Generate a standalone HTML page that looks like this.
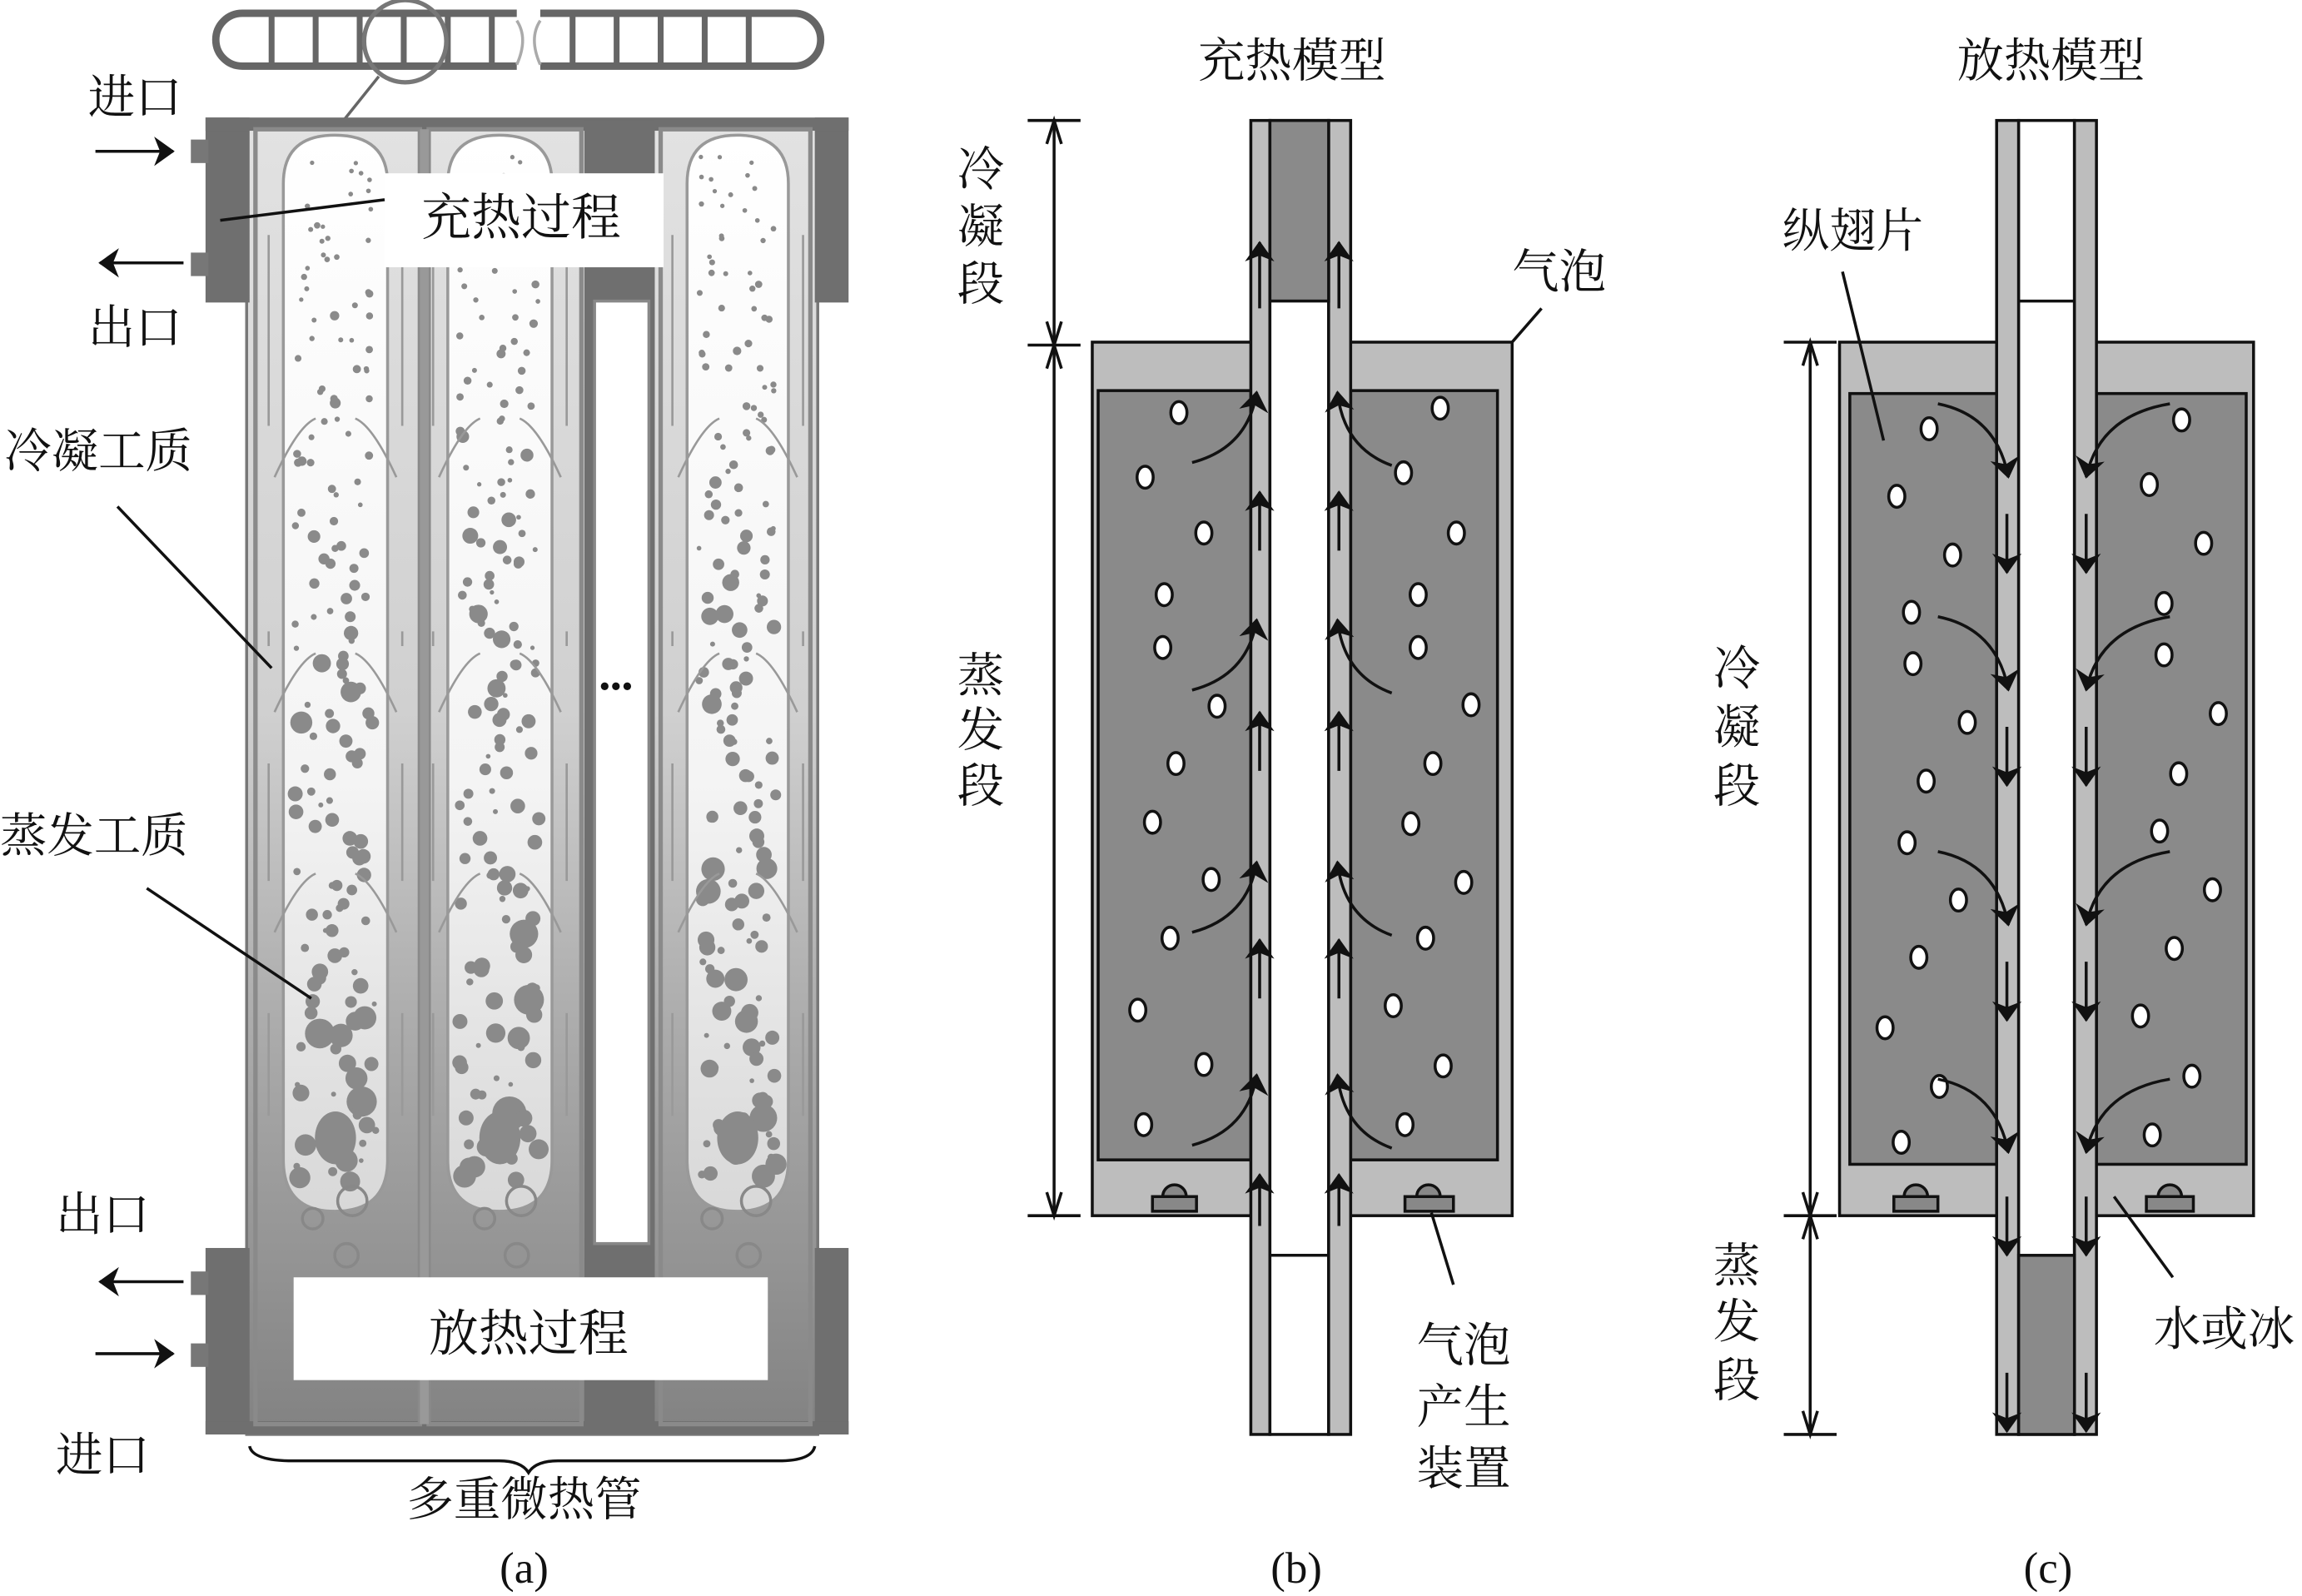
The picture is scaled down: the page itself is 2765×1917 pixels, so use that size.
<!DOCTYPE html>
<html><head><meta charset="utf-8"><style>
html,body{margin:0;padding:0;background:#fff}
svg{display:block}
text{font-family:"Liberation Serif","Noto Serif CJK SC","Noto Sans CJK SC",serif;fill:#111}
</style></head><body>
<svg id="s" width="2765" height="1917" viewBox="0 0 1568 1087" xmlns="http://www.w3.org/2000/svg">
<defs>
<linearGradient id="gb" x1="0" y1="0" x2="0" y2="1">
<stop offset="0" stop-color="#e2e2e2"/><stop offset="0.45" stop-color="#d0d0d0"/><stop offset="0.7" stop-color="#aaaaaa"/><stop offset="1" stop-color="#828282"/></linearGradient>
<linearGradient id="gc" x1="0" y1="0" x2="0" y2="1">
<stop offset="0" stop-color="#ffffff"/><stop offset="0.6" stop-color="#f4f4f4"/><stop offset="1" stop-color="#d8d8d8"/></linearGradient>
<marker id="ah" markerWidth="14" markerHeight="22" refX="13" refY="11" orient="auto" markerUnits="userSpaceOnUse"><path d="M0,1 L14,11 L0,21 L4,11z" fill="#111"/></marker>
</defs>

<!-- ===== Panel (a) ===== -->
<g id="pa">
<rect x="147" y="9" width="412" height="36" rx="18" fill="none" stroke="#666" stroke-width="5"/>
<g stroke="#666" stroke-width="4">
<line x1="185" y1="11" x2="185" y2="43"/><line x1="215" y1="11" x2="215" y2="43"/><line x1="245" y1="11" x2="245" y2="43"/><line x1="275" y1="11" x2="275" y2="43"/><line x1="305" y1="11" x2="305" y2="43"/><line x1="335" y1="11" x2="335" y2="43"/>
<line x1="390" y1="11" x2="390" y2="43"/><line x1="420" y1="11" x2="420" y2="43"/><line x1="450" y1="11" x2="450" y2="43"/><line x1="480" y1="11" x2="480" y2="43"/><line x1="510" y1="11" x2="510" y2="43"/>
</g>
<rect x="352" y="4" width="16" height="46" fill="#fff"/>
<path d="M352,14 q8,12 0,30 M368,14 q-8,12 0,30" stroke="#aaa" stroke-width="2" fill="none"/>
<circle cx="276" cy="28" r="28" fill="none" stroke="#777" stroke-width="3"/>
<line x1="258" y1="52" x2="234" y2="82" stroke="#666" stroke-width="2"/>

<rect x="168" y="82" width="389" height="895" fill="url(#gb)" stroke="#777" stroke-width="2"/>
<rect x="140" y="80" width="30" height="126" fill="#6f6f6f"/>
<rect x="555" y="80" width="23" height="126" fill="#6f6f6f"/>
<rect x="140" y="80" width="438" height="9" fill="#6f6f6f"/>
<rect x="140" y="850" width="30" height="127" fill="#6f6f6f"/>
<rect x="555" y="850" width="23" height="127" fill="#6f6f6f"/>
<rect x="140" y="968" width="438" height="9" fill="#6f6f6f"/>
<rect x="130" y="95" width="12" height="16" fill="#777"/>
<rect x="130" y="172" width="12" height="16" fill="#777"/>
<rect x="130" y="866" width="12" height="16" fill="#777"/>
<rect x="130" y="915" width="12" height="16" fill="#777"/>
<rect x="398" y="82" width="48" height="895" fill="#6f6f6f"/>
<rect x="405" y="205" width="37" height="642" fill="#fff" stroke="#888" stroke-width="2"/>
<g fill="none" stroke="#8a8a8a" stroke-width="3">
<rect x="174" y="88" width="112" height="882"/>
<rect x="292" y="88" width="104" height="882"/>
<rect x="450" y="88" width="102" height="882"/>
</g>
<rect x="286" y="88" width="6" height="882" fill="#999"/>
<g fill="url(#gc)" stroke="#999" stroke-width="2">
<path d="M193,790 L193,125 Q193,92 228,92 Q264,92 264,125 L264,790 Q264,825 228,825 Q193,825 193,790z"/>
<path d="M305,790 L305,125 Q305,92 340,92 Q376,92 376,125 L376,790 Q376,825 340,825 Q305,825 305,790z"/>
<path d="M468,790 L468,125 Q468,92 502,92 Q537,92 537,125 L537,790 Q537,825 502,825 Q468,825 468,790z"/>
</g>
<g id="dots" fill="#8a8a8a"></g>
<g id="dn" stroke="#999" stroke-width="1.5" fill="none"></g>
<g fill="none" stroke="#888" stroke-width="2">
<circle cx="213" cy="830" r="7"/><circle cx="240" cy="818" r="10"/><circle cx="236" cy="855" r="8"/>
<circle cx="330" cy="830" r="7"/><circle cx="355" cy="818" r="10"/><circle cx="352" cy="855" r="8"/>
<circle cx="485" cy="830" r="7"/><circle cx="515" cy="818" r="10"/><circle cx="510" cy="855" r="8"/>
</g>
<rect x="262" y="118" width="190" height="64" fill="#fff"/>
<rect x="200" y="870" width="323" height="70" fill="#fff"/>
<text x="355" y="160" font-size="34" text-anchor="middle">充热过程</text>
<text x="360" y="920" font-size="34" text-anchor="middle">放热过程</text>
<line x1="150" y1="150" x2="262" y2="136" stroke="#111" stroke-width="2"/>
<text x="408" y="475" font-size="22" fill="#333">•••</text>
<text x="60" y="77" font-size="32">进口</text>
<line x1="65" y1="103" x2="118" y2="103" stroke="#111" stroke-width="2" marker-end="url(#ah)"/>
<line x1="125" y1="179" x2="68" y2="179" stroke="#111" stroke-width="2" marker-end="url(#ah)"/>
<text x="60" y="234" font-size="32">出口</text>
<text x="3" y="318" font-size="32">冷凝工质</text>
<line x1="80" y1="345" x2="185" y2="455" stroke="#111" stroke-width="2"/>
<text x="0" y="580" font-size="32">蒸发工质</text>
<line x1="100" y1="605" x2="212" y2="680" stroke="#111" stroke-width="2"/>
<text x="38" y="838" font-size="32">出口</text>
<line x1="125" y1="873" x2="68" y2="873" stroke="#111" stroke-width="2" marker-end="url(#ah)"/>
<line x1="65" y1="922" x2="118" y2="922" stroke="#111" stroke-width="2" marker-end="url(#ah)"/>
<text x="38" y="1002" font-size="32">进口</text>
<path d="M170,985 Q172,995 200,995 L340,995 Q355,995 360,1003 Q365,995 380,995 L530,995 Q553,995 555,985" fill="none" stroke="#111" stroke-width="2"/>
<text x="357" y="1032" font-size="32" text-anchor="middle">多重微热管</text>
<text x="357" y="1078" font-size="30" text-anchor="middle">(a)</text>
</g>

<!-- ===== Panel (b) ===== -->
<g id="pb" stroke="#111" stroke-width="2">
<text x="880" y="52" font-size="32" text-anchor="middle" stroke="none">充热模型</text>
<line x1="718" y1="84" x2="718" y2="826"/>
<line x1="700" y1="82" x2="736" y2="82"/><line x1="700" y1="235" x2="736" y2="235"/><line x1="700" y1="828" x2="736" y2="828"/>
<path d="M713,98 L718,82 L723,98 M713,219 L718,235 L723,219 M713,251 L718,235 L723,251 M713,812 L718,828 L723,812" fill="none"/>
<g stroke="none" font-size="32" text-anchor="middle">
<text x="668" y="126">冷</text><text x="668" y="165">凝</text><text x="668" y="204">段</text>
<text x="668" y="471">蒸</text><text x="668" y="508">发</text><text x="668" y="546">段</text>
</g>
<rect x="744" y="233" width="286" height="595" fill="#bdbdbd"/>
<rect x="748" y="266" width="104" height="524" fill="#8a8a8a"/>
<rect x="920" y="266" width="100" height="524" fill="#8a8a8a"/>
<path d="M785,825 L815,825 L815,815 L785,815z M792,815 a8,8 0 0 1 16,0" fill="#888"/>
<path d="M957,825 L990,825 L990,815 L957,815z M965,815 a8,8 0 0 1 16,0" fill="#888"/>
<rect x="852" y="82" width="13" height="895" fill="#bdbdbd"/>
<rect x="865" y="82" width="40" height="895" fill="#fff"/>
<rect x="905" y="82" width="15" height="895" fill="#bdbdbd"/>
<rect x="865" y="82" width="40" height="123" fill="#8a8a8a"/>
<line x1="865" y1="855" x2="905" y2="855"/>
<g id="bb" fill="#fff"></g>
<g fill="none" id="ba"></g>
<line x1="1030" y1="233" x2="1050" y2="210"/>
<text x="1062" y="196" font-size="32" text-anchor="middle" stroke="none">气泡</text>
<line x1="975" y1="826" x2="990" y2="875"/>
<g stroke="none" font-size="32" text-anchor="middle">
<text x="997" y="927">气泡</text><text x="997" y="969">产生</text><text x="997" y="1011">装置</text>
</g>
<text x="883" y="1078" font-size="30" text-anchor="middle" stroke="none">(b)</text>
</g>

<!-- ===== Panel (c) ===== -->
<g id="pc" stroke="#111" stroke-width="2">
<text x="1397" y="52" font-size="32" text-anchor="middle" stroke="none">放热模型</text>
<line x1="1233" y1="235" x2="1233" y2="975"/>
<line x1="1215" y1="233" x2="1251" y2="233"/><line x1="1215" y1="828" x2="1251" y2="828"/><line x1="1215" y1="977" x2="1251" y2="977"/>
<path d="M1228,249 L1233,233 L1238,249 M1228,812 L1233,828 L1238,812 M1228,844 L1233,828 L1238,844 M1228,961 L1233,977 L1238,961" fill="none"/>
<g stroke="none" font-size="32" text-anchor="middle">
<text x="1183" y="466">冷</text><text x="1183" y="506">凝</text><text x="1183" y="546">段</text>
<text x="1183" y="873">蒸</text><text x="1183" y="911">发</text><text x="1183" y="951">段</text>
</g>
<rect x="1253" y="233" width="282" height="595" fill="#bdbdbd"/>
<rect x="1260" y="268" width="100" height="525" fill="#8a8a8a"/>
<rect x="1428" y="268" width="102" height="525" fill="#8a8a8a"/>
<path d="M1290,825 L1320,825 L1320,815 L1290,815z M1297,815 a8,8 0 0 1 16,0" fill="#888"/>
<path d="M1462,825 L1494,825 L1494,815 L1462,815z M1470,815 a8,8 0 0 1 16,0" fill="#888"/>
<rect x="1360" y="82" width="15" height="895" fill="#bdbdbd"/>
<rect x="1375" y="82" width="38" height="895" fill="#fff"/>
<rect x="1413" y="82" width="15" height="895" fill="#bdbdbd"/>
<line x1="1375" y1="205" x2="1413" y2="205"/>
<rect x="1375" y="855" width="38" height="122" fill="#8a8a8a"/>
<g id="cb" fill="#fff"></g>
<g fill="none" id="ca"></g>
<text x="1262" y="168" font-size="32" text-anchor="middle" stroke="none">纵翅片</text>
<line x1="1255" y1="185" x2="1283" y2="300"/>
<line x1="1440" y1="815" x2="1480" y2="870"/>
<text x="1515" y="916" font-size="32" text-anchor="middle" stroke="none">水或冰</text>
<text x="1395" y="1078" font-size="30" text-anchor="middle" stroke="none">(c)</text>
</g>
</svg>
<script>
var NS="http://www.w3.org/2000/svg";
function el(p,t,a){var e=document.createElementNS(NS,t);for(var k in a)e.setAttribute(k,a[k]);document.getElementById(p).appendChild(e);return e;}
var seed=7;function rnd(){seed=(seed*16807)%2147483647;return seed/2147483647;}
[[193,264],[305,376],[468,537]].forEach(function(c){
 for(var y=105;y<800;y+=11){
  var n=2+Math.floor(rnd()*2);
  for(var i=0;i<n;i++){var f=(y-100)/700;var r=1.5+f*6*rnd()+ (rnd()<0.15?f*5:0);
   el("dots","circle",{cx:c[0]+8+rnd()*(c[1]-c[0]-16),cy:y+rnd()*8,r:r.toFixed(1)});}
 }
 el("dots","ellipse",{cx:(c[0]+c[1])/2,cy:775,rx:14,ry:18});
 [300,460,610].forEach(function(y){
  el("dn","path",{d:"M"+(c[0]-6)+","+(y+25)+" Q"+(c[0]+10)+","+(y-10)+" "+(c[0]+22)+","+(y-15)});
  el("dn","path",{d:"M"+(c[1]+6)+","+(y+25)+" Q"+(c[1]-10)+","+(y-10)+" "+(c[1]-22)+","+(y-15)});
 });
 [[110,290],[380,440],[470,600],[640,760]].forEach(function(s){
  el("dn","line",{x1:c[0]-10,y1:s[0]+50,x2:c[0]-10,y2:s[1]});
  el("dn","line",{x1:c[1]+10,y1:s[0]+50,x2:c[1]+10,y2:s[1]});
 });
});
var bl=[[803,281],[780,325],[820,363],[793,405],[792,441],[829,481],[801,520],[785,560],[825,599],[797,639],[775,688],[820,725],[779,766],[981,278],[956,322],[992,363],[966,405],[966,441],[1002,480],[976,520],[961,561],[997,601],[971,639],[949,685],[983,726],[957,766]];
bl.forEach(function(p){el("bb","ellipse",{cx:p[0],cy:p[1],rx:5.5,ry:7.5});});
var cl=[[1314,292],[1292,338],[1330,378],[1302,417],[1303,452],[1340,492],[1312,532],[1299,574],[1334,613],[1307,652],[1284,700],[1321,740],[1295,778],[1486,286],[1464,330],[1501,370],[1474,411],[1474,446],[1511,486],[1484,527],[1471,566],[1507,606],[1481,646],[1458,692],[1493,733],[1466,773]];
cl.forEach(function(p){el("cb","ellipse",{cx:p[0],cy:p[1],rx:5.5,ry:7.5});});
[265,420,585,730].forEach(function(y){
 el("ba","path",{d:"M812,"+(y+50)+" Q850,"+(y+40)+" 856,"+(y+2),"marker-end":"url(#ah)"});
 el("ba","path",{d:"M948,"+(y+52)+" Q915,"+(y+40)+" 911,"+(y+2),"marker-end":"url(#ah)"});
});
[[210,165],[375,335],[525,485],[680,640],[835,800]].forEach(function(s){
 el("ba","line",{x1:858,y1:s[0],x2:858,y2:s[1],"marker-end":"url(#ah)"});
 el("ba","line",{x1:912,y1:s[0],x2:912,y2:s[1],"marker-end":"url(#ah)"});
});
[275,420,580,735].forEach(function(y){
 el("ca","path",{d:"M1320,"+(y)+" Q1360,"+(y+8)+" 1368,"+(y+50),"marker-end":"url(#ah)"});
 el("ca","path",{d:"M1478,"+(y)+" Q1430,"+(y+8)+" 1421,"+(y+50),"marker-end":"url(#ah)"});
});
[[350,390],[495,535],[655,695],[815,855],[935,975]].forEach(function(s){
 el("ca","line",{x1:1367,y1:s[0],x2:1367,y2:s[1],"marker-end":"url(#ah)"});
 el("ca","line",{x1:1421,y1:s[0],x2:1421,y2:s[1],"marker-end":"url(#ah)"});
});
</script>
</body></html>
